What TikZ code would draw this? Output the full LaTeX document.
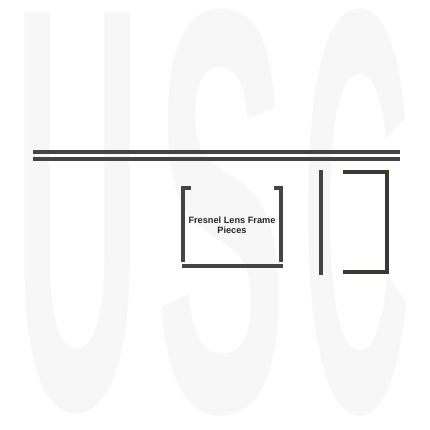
\documentclass[tikz,border=0pt]{standalone}
\usepackage{fontspec}
\setmainfont{Liberation Sans}
\definecolor{wm}{HTML}{F7F7F7}
\definecolor{ln}{HTML}{444444}
\definecolor{ol}{HTML}{3A3A30}
\begin{document}
\begin{tikzpicture}[x=1pt,y=-1pt,
  piece/.style={draw=ln,line width=3.2pt},
  olpiece/.style={draw=ol,line width=3.2pt},
  lbl/.style={font=\bfseries\fontsize{9.2}{10.5}\selectfont,align=center,text=black!85,inner sep=0pt},
  wmark/.style={font=\bfseries\fontsize{100}{100}\selectfont,text=wm,inner sep=0pt,anchor=base}]
\useasboundingbox[fill=white] (0,0) rectangle (430,430);
% watermark
\node[wmark,xscale=1.75,yscale=5.75] (wu) at (78,408) {U};
\node[wmark,xscale=1.95,yscale=5.75] (ws) at (222,410) {S};
\node[wmark,xscale=1.5,yscale=5.75] (wc) at (357,410) {C};
% double rail
\coordinate (r1a) at (33,152); \coordinate (r1b) at (400,152);
\coordinate (r2a) at (33,159); \coordinate (r2b) at (400,159);
\draw[piece] (r1a) -- (r1b);
\draw[piece] (r2a) -- (r2b);
% left bracket pieces
\coordinate (la) at (191,188); \coordinate (lb) at (183,188); \coordinate (lc) at (183,262);
\draw[piece] (la) -- (lb) -- (lc);
\coordinate (ra) at (274,188); \coordinate (rb) at (281,188); \coordinate (rc) at (281,262);
\draw[piece] (ra) -- (rb) -- (rc);
\coordinate (ba) at (182,266); \coordinate (bb) at (283,266);
\draw[piece] (ba) -- (bb);
\node[lbl] (txt) at (232,225) {Fresnel Lens Frame\\Pieces};
% right group
\coordinate (va) at (321,170); \coordinate (vb) at (321,275);
\draw[piece] (va) -- (vb);
\coordinate (ka) at (343,172); \coordinate (kb) at (387,172);
\coordinate (kc) at (387,272); \coordinate (kd) at (343,272);
\draw[olpiece] (ka) -- (kb) -- (kc) -- (kd);
\end{tikzpicture}
\end{document}
